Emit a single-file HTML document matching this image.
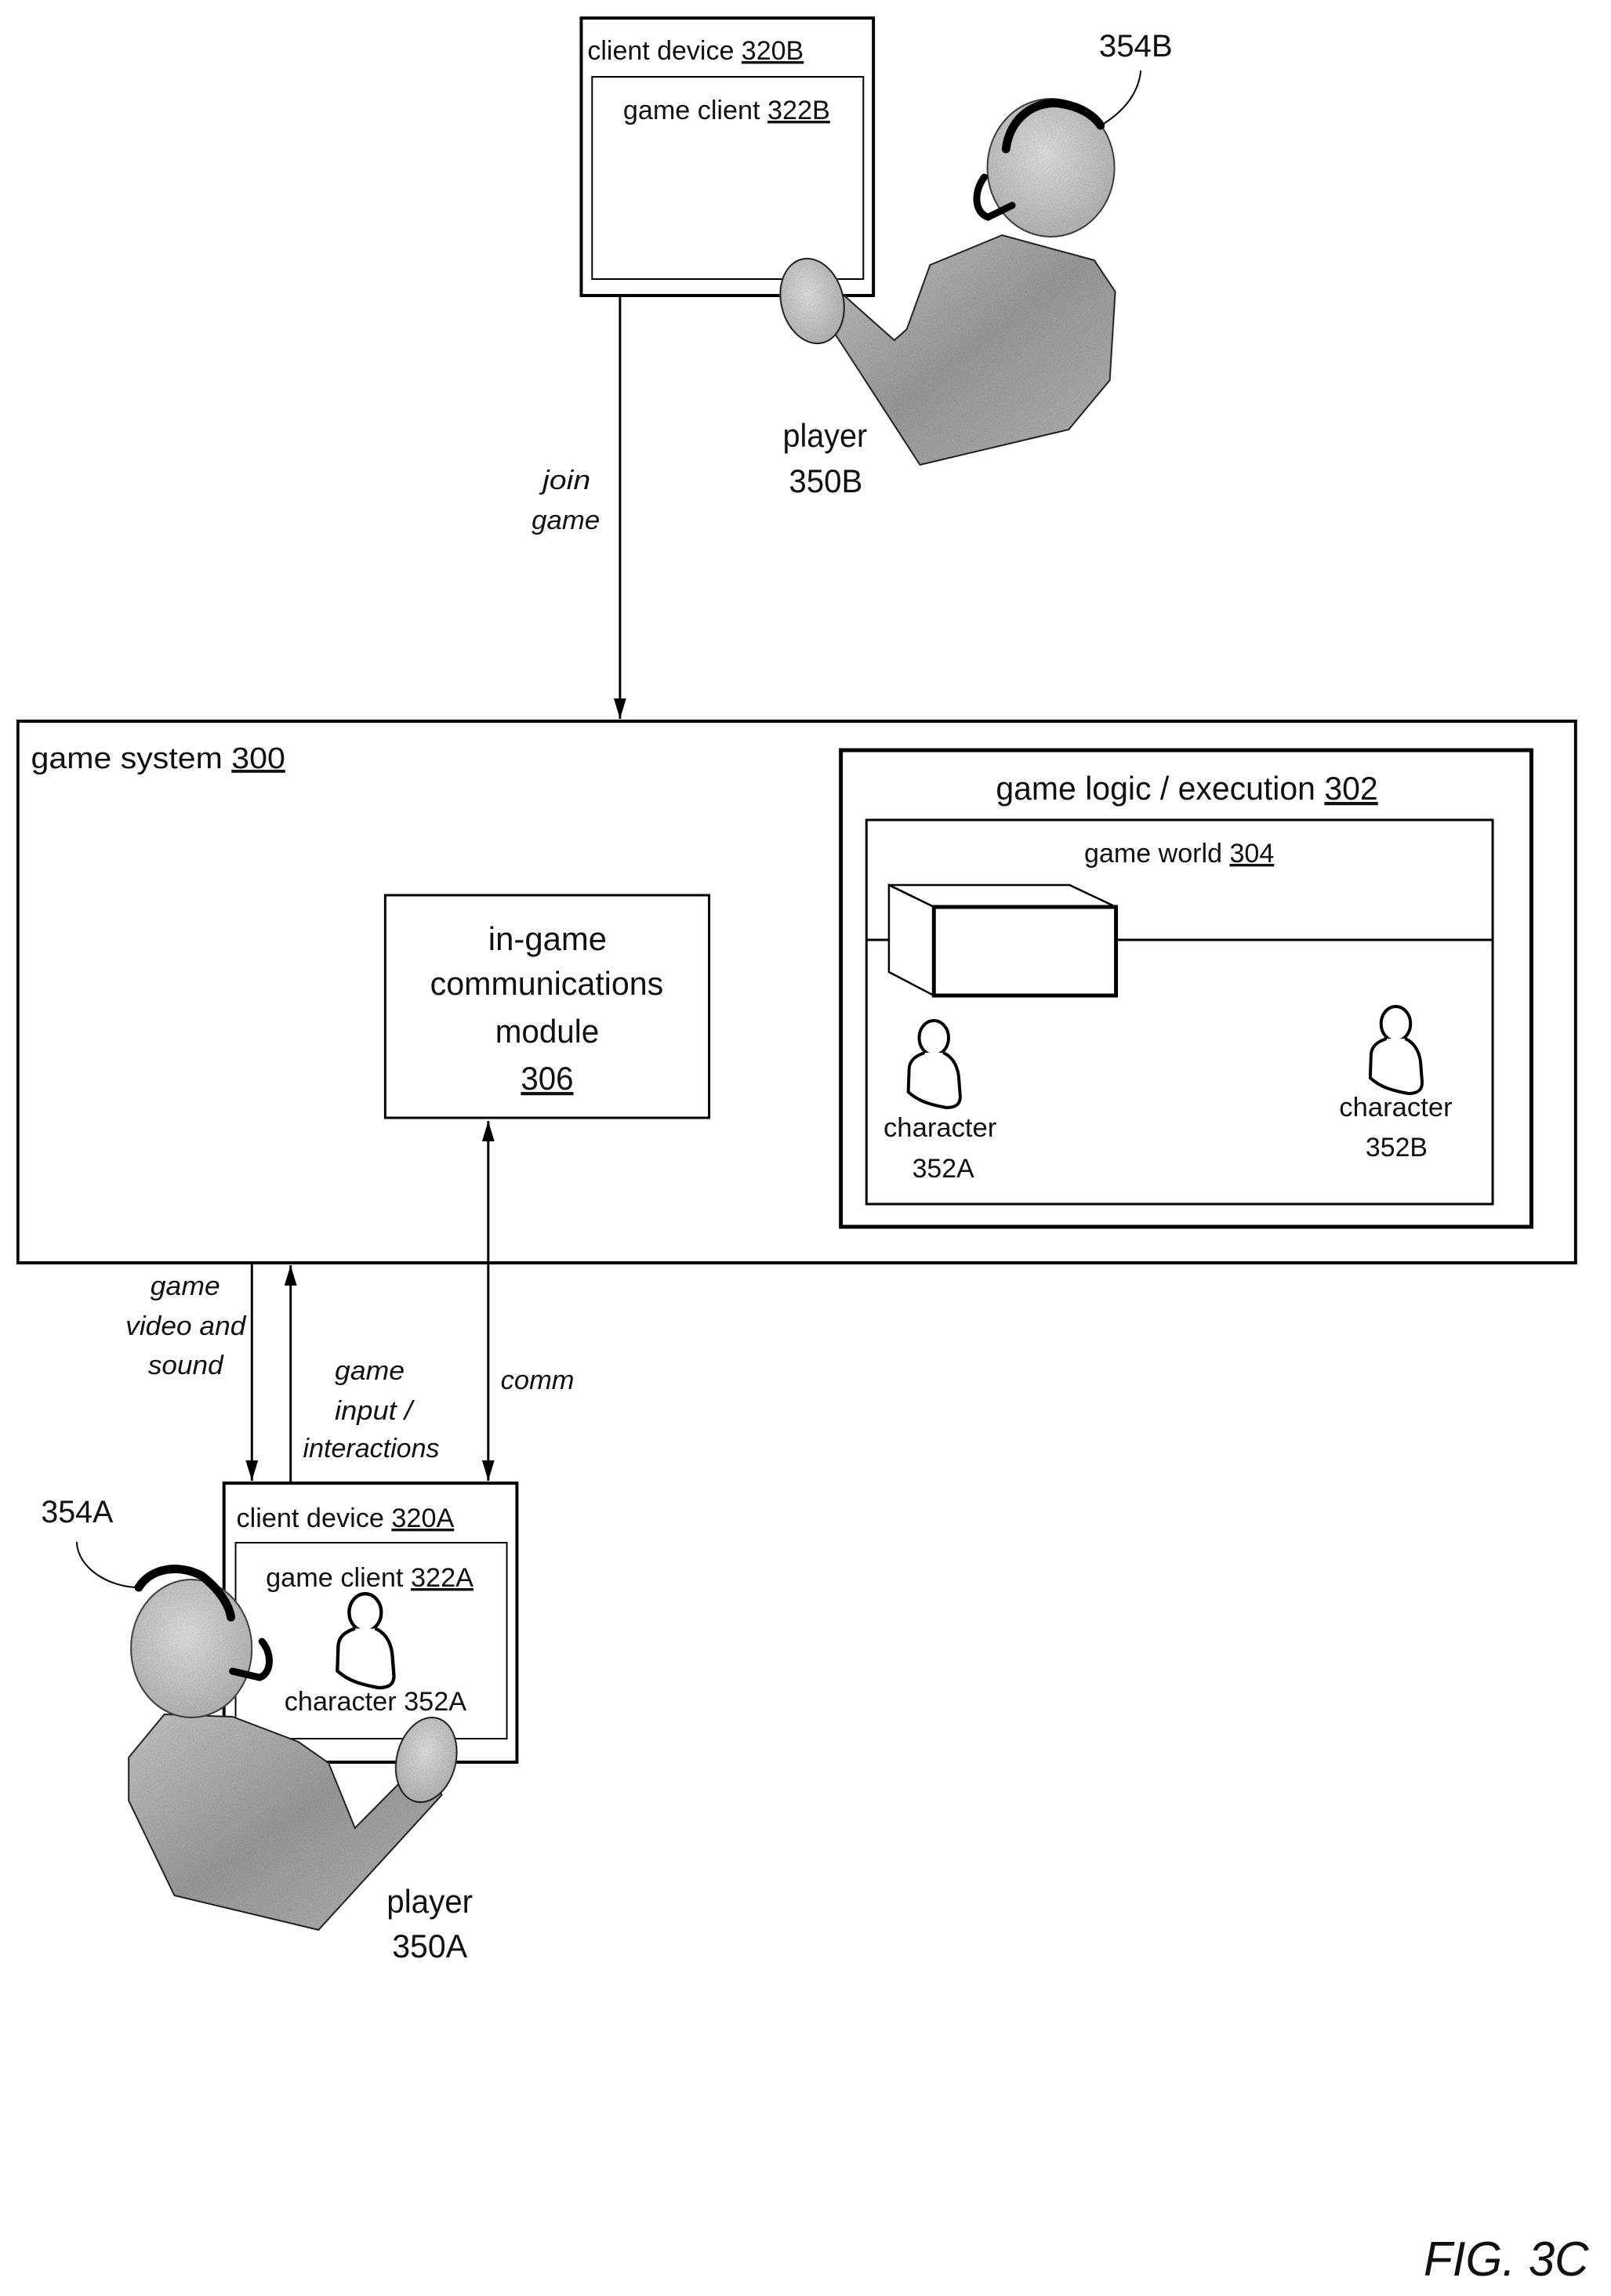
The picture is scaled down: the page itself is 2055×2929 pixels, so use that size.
<!DOCTYPE html>
<html><head><meta charset="utf-8"><style>
html,body{margin:0;padding:0;background:#fff;}
svg{display:block;}
text{font-family:"Liberation Sans",sans-serif;fill:#111;}
.i{font-style:italic;}
</style></head><body>
<svg width="2055" height="2929" viewBox="0 0 2055 2929" xmlns="http://www.w3.org/2000/svg">
<defs>
<marker id="ah2" markerWidth="28" markerHeight="20" refX="26" refY="10" orient="auto-start-reverse" markerUnits="userSpaceOnUse"><path d="M0,2 L26,10 L0,18 Z" fill="#000"/></marker>
<linearGradient id="gb" x1="0" y1="0" x2="1" y2="1"><stop offset="0" stop-color="#d6d6d6"/><stop offset="0.5" stop-color="#a8a8a8"/><stop offset="1" stop-color="#c4c4c4"/></linearGradient>
<radialGradient id="gh" cx="0.45" cy="0.4" r="0.7"><stop offset="0" stop-color="#f2f2f2"/><stop offset="1" stop-color="#bdbdbd"/></radialGradient>
<filter id="n"><feTurbulence type="fractalNoise" baseFrequency="0.9" numOctaves="1" result="t"/><feColorMatrix in="t" type="saturate" values="0" result="g"/><feComposite in="g" in2="SourceGraphic" operator="in" result="m"/><feBlend in="SourceGraphic" in2="m" mode="multiply"/></filter>
<g id="chr">
<ellipse cx="0" cy="23" rx="19" ry="22" fill="#fff" stroke="#000" stroke-width="4"/>
<path d="M-12,42 C-24,46 -32,52 -32,64 L-33,92 C-20,104 -5,108 16,112 C28,112 34,108 34,98 L32,72 C30,56 22,46 12,42" fill="#fff" stroke="#000" stroke-width="4"/>
</g>
</defs>
<g transform="scale(0.9886,1)">
<!-- client device 320B -->
<rect x="750" y="23" width="377" height="354" fill="#fff" stroke="#000" stroke-width="4"/>
<rect x="764" y="98" width="350" height="258" fill="#fff" stroke="#000" stroke-width="2"/>
<text x="758" y="76" font-size="34" textLength="279" lengthAdjust="spacingAndGlyphs">client device <tspan text-decoration="underline">320B</tspan></text>
<text x="804" y="152" font-size="34" textLength="267" lengthAdjust="spacingAndGlyphs">game client <tspan text-decoration="underline">322B</tspan></text>

<!-- player B -->
<g filter="url(#n)">
<path d="M1200,338 L1293,300 L1412,332 L1439,372 L1432,485 L1379,548 L1187,593 L1090,445 L1060,400 L1088,376 L1154,434 L1170,420 Z" fill="url(#gb)" stroke="#222" stroke-width="2"/>
<ellipse cx="1048" cy="384" rx="40" ry="55" transform="rotate(-15 1048 384)" fill="url(#gh)" stroke="#222" stroke-width="2"/>
<ellipse cx="1356" cy="214" rx="82" ry="88" fill="url(#gh)" stroke="#444" stroke-width="2"/>
</g>
<path d="M1298,190 C1303,150 1335,128 1368,132 C1395,136 1412,148 1420,160" fill="none" stroke="#000" stroke-width="11" stroke-linecap="round"/>
<path d="M1270,226 C1255,246 1258,272 1275,277 L1306,262" fill="none" stroke="#000" stroke-width="9" stroke-linecap="round"/>
<path d="M1424,158 C1460,135 1470,110 1472,90" fill="none" stroke="#000" stroke-width="2"/>
<text x="1418" y="72" font-size="40" textLength="95" lengthAdjust="spacingAndGlyphs">354B</text>
<text x="1010" y="570" font-size="42" textLength="109" lengthAdjust="spacingAndGlyphs">player</text>
<text x="1018" y="628" font-size="42" textLength="95" lengthAdjust="spacingAndGlyphs">350B</text>

<!-- join game arrow -->
<line x1="800" y1="378" x2="800" y2="917" stroke="#000" stroke-width="3" marker-end="url(#ah2)"/>
<text class="i" x="700" y="624" font-size="34" textLength="62" lengthAdjust="spacingAndGlyphs">join</text>
<text class="i" x="686" y="675" font-size="34" textLength="88" lengthAdjust="spacingAndGlyphs">game</text>

<!-- game system -->
<rect x="23" y="920" width="2010" height="691" fill="none" stroke="#000" stroke-width="4"/>
<text x="40" y="980" font-size="38" textLength="328" lengthAdjust="spacingAndGlyphs">game system <tspan text-decoration="underline">300</tspan></text>

<rect x="1085" y="957" width="891" height="608" fill="none" stroke="#000" stroke-width="5"/>
<text x="1285" y="1020" font-size="42" textLength="493" lengthAdjust="spacingAndGlyphs">game logic / execution <tspan text-decoration="underline">302</tspan></text>
<rect x="1118" y="1046" width="808" height="490" fill="none" stroke="#000" stroke-width="3"/>
<text x="1399" y="1100" font-size="34" textLength="245" lengthAdjust="spacingAndGlyphs">game world <tspan text-decoration="underline">304</tspan></text>
<line x1="1118" y1="1199" x2="1926" y2="1199" stroke="#000" stroke-width="3"/>
<path d="M1147,1129 L1380,1129 L1440,1157 L1205,1157 Z" fill="#fff" stroke="#000" stroke-width="2.5"/>
<path d="M1147,1129 L1205,1157 L1205,1270 L1147,1240 Z" fill="#fff" stroke="#000" stroke-width="2.5"/>
<rect x="1205" y="1157" width="235" height="113" fill="#fff" stroke="#000" stroke-width="5"/>
<use href="#chr" x="1205" y="1301"/>
<text x="1140" y="1450" font-size="34" textLength="146" lengthAdjust="spacingAndGlyphs">character</text>
<text x="1177" y="1502" font-size="34" textLength="80" lengthAdjust="spacingAndGlyphs">352A</text>
<use href="#chr" x="1801" y="1283"/>
<text x="1728" y="1424" font-size="34" textLength="146" lengthAdjust="spacingAndGlyphs">character</text>
<text x="1762" y="1475" font-size="34" textLength="80" lengthAdjust="spacingAndGlyphs">352B</text>

<rect x="497" y="1142" width="418" height="284" fill="#fff" stroke="#000" stroke-width="3"/>
<text x="630" y="1212" font-size="42" textLength="153" lengthAdjust="spacingAndGlyphs">in-game</text>
<text x="555" y="1269" font-size="42" textLength="301" lengthAdjust="spacingAndGlyphs">communications</text>
<text x="639" y="1330" font-size="42" textLength="134" lengthAdjust="spacingAndGlyphs">module</text>
<text x="672" y="1390" font-size="42" textLength="68" lengthAdjust="spacingAndGlyphs" text-decoration="underline">306</text>

<!-- arrows between -->
<line x1="630" y1="1430" x2="630" y2="1889" stroke="#000" stroke-width="3" marker-start="url(#ah2)" marker-end="url(#ah2)"/>
<line x1="325" y1="1613" x2="325" y2="1889" stroke="#000" stroke-width="3" marker-end="url(#ah2)"/>
<line x1="375" y1="1891" x2="375" y2="1614" stroke="#000" stroke-width="3" marker-end="url(#ah2)"/>
<text class="i" x="194" y="1652" font-size="34" textLength="90" lengthAdjust="spacingAndGlyphs">game</text>
<text class="i" x="162" y="1703" font-size="34" textLength="155" lengthAdjust="spacingAndGlyphs">video and</text>
<text class="i" x="191" y="1753" font-size="34" textLength="97" lengthAdjust="spacingAndGlyphs">sound</text>
<text class="i" x="432" y="1760" font-size="34" textLength="90" lengthAdjust="spacingAndGlyphs">game</text>
<text class="i" x="432" y="1811" font-size="34" textLength="100" lengthAdjust="spacingAndGlyphs">input /</text>
<text class="i" x="391" y="1859" font-size="34" textLength="176" lengthAdjust="spacingAndGlyphs">interactions</text>
<text class="i" x="646" y="1772" font-size="34" textLength="95" lengthAdjust="spacingAndGlyphs">comm</text>

<!-- client device 320A -->
<rect x="289" y="1892" width="378" height="356" fill="#fff" stroke="#000" stroke-width="4"/>
<rect x="304" y="1968" width="350" height="250" fill="#fff" stroke="#000" stroke-width="2"/>
<text x="305" y="1948" font-size="34" textLength="281" lengthAdjust="spacingAndGlyphs">client device <tspan text-decoration="underline">320A</tspan></text>
<text x="343" y="2024" font-size="34" textLength="268" lengthAdjust="spacingAndGlyphs">game client <tspan text-decoration="underline">322A</tspan></text>
<use href="#chr" x="469" y="2039" transform="translate(-40 -170) scale(1.09 1.08)"/>
<text x="367" y="2182" font-size="34" textLength="235" lengthAdjust="spacingAndGlyphs">character 352A</text>

<!-- player A -->
<g filter="url(#n)">
<path d="M166,2242 L212,2187 L300,2190 L385,2222 L424,2249 L458,2332 L520,2270 L560,2260 L570,2290 L411,2462 L225,2418 L166,2297 Z" fill="url(#gb)" stroke="#222" stroke-width="2"/>
<ellipse cx="550" cy="2245" rx="38" ry="55" transform="rotate(15 550 2245)" fill="url(#gh)" stroke="#222" stroke-width="2"/>
<ellipse cx="247" cy="2103" rx="78" ry="88" fill="url(#gh)" stroke="#444" stroke-width="2"/>
</g>
<path d="M179,2025 C195,2000 230,1995 260,2010 C280,2025 295,2045 298,2063" fill="none" stroke="#000" stroke-width="11" stroke-linecap="round"/>
<path d="M338,2094 C352,2110 350,2135 335,2140 L300,2132" fill="none" stroke="#000" stroke-width="9" stroke-linecap="round"/>
<path d="M99,1967 C100,2000 140,2025 179,2025" fill="none" stroke="#000" stroke-width="2"/>
<text x="53" y="1942" font-size="40" textLength="93" lengthAdjust="spacingAndGlyphs">354A</text>
<text x="499" y="2440" font-size="42" textLength="111" lengthAdjust="spacingAndGlyphs">player</text>
<text x="506" y="2497" font-size="42" textLength="97" lengthAdjust="spacingAndGlyphs">350A</text>

<text class="i" x="1837" y="2903" font-size="62" textLength="213" lengthAdjust="spacingAndGlyphs">FIG. 3C</text>
</g>
</svg>
</body></html>
